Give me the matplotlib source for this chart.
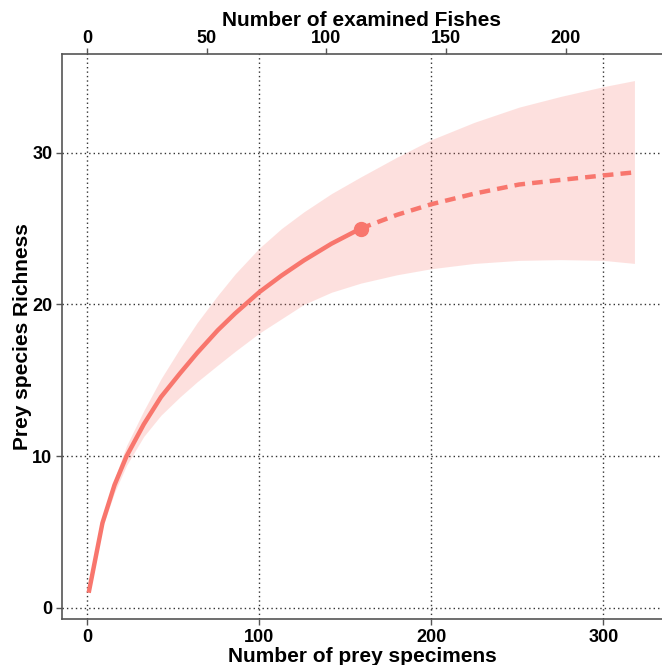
import numpy as np
import matplotlib.pyplot as plt

# rarefaction / extrapolation curve
m_obs = [1, 9, 16, 23, 33, 43, 54, 64, 76, 86, 100, 113, 126, 142, 159]
s_obs = [1.0, 5.6, 8.1, 10.0, 12.1, 13.9, 15.45, 16.8, 18.3, 19.4, 20.8, 21.9, 22.9, 24.0, 25.0]

m_ext = [159, 180, 200, 225, 251, 275, 300, 318]
s_ext = [25.0, 25.9, 26.6, 27.3, 27.9, 28.2, 28.5, 28.7]

# confidence band
m_band = [1, 9, 16, 23, 33, 43, 54, 64, 76, 86, 100, 113, 126, 142, 159, 180, 200, 225, 251, 275, 300, 318]
upper = [1.0, 5.9, 8.5, 10.7, 13.0, 15.1, 17.1, 18.8, 20.6, 22.0, 23.7, 25.0, 26.1, 27.3, 28.4, 29.7, 30.85, 32.0, 33.0, 33.7, 34.35, 34.75]
lower = [1.0, 5.3, 7.6, 9.4, 11.3, 12.7, 13.9, 14.9, 16.0, 16.9, 18.1, 19.05, 20.0, 20.8, 21.4, 21.95, 22.35, 22.7, 22.9, 22.95, 22.9, 22.7]

x_ticks = [0, 100, 200, 300]
y_ticks = [0, 10, 20, 30]
fish_ticks = [0, 50, 100, 150, 200]
specimens_per_fish = 1.39

red = "#F8766D"
spine_col = "#555555"

plt.rcParams['font.family'] = ['Liberation Sans', 'DejaVu Sans']
plt.rcParams['font.weight'] = 'bold'

fig = plt.figure(figsize=(6.62, 6.65), dpi=100)
ax = fig.add_axes([62 / 662, 1 - 619 / 665, 600 / 662, (619 - 54) / 665])

ax.fill_between(m_band, lower, upper, color=red, alpha=0.22, linewidth=0, zorder=1)
ax.plot(m_obs, s_obs, color=red, lw=3.2, solid_capstyle='butt', solid_joinstyle='round', zorder=3)
ax.plot(m_ext, s_ext, color=red, lw=3.2, dashes=(2.4, 1.6), zorder=3)
ax.plot(m_obs[-1], s_obs[-1], 'o', color=red, markersize=10, zorder=4)

ax.set_xlim(-14.5, 334)
ax.set_ylim(-0.73, 36.5)
ax.set_xticks(x_ticks)
ax.set_yticks(y_ticks)
ax.grid(True, color='#333333', linestyle=(0, (1, 2.2)), linewidth=1.0, zorder=0)
ax.set_axisbelow(True)

for side in ['right', 'top']:
    ax.spines[side].set_visible(False)
for side in ['left', 'bottom']:
    ax.spines[side].set_color(spine_col)
    ax.spines[side].set_linewidth(1.2)

ax.tick_params(axis='both', length=4, width=1, color=spine_col, labelsize=13, pad=3)
ax.set_xlabel("Number of prey specimens", fontsize=15, fontweight='bold', labelpad=1)
ax.set_ylabel("Prey species Richness", fontsize=15, fontweight='bold', labelpad=0)

top = ax.secondary_xaxis('top', functions=(lambda m: m / specimens_per_fish,
                                           lambda f: f * specimens_per_fish))
top.set_xticks(fish_ticks)
top.spines['top'].set_color(spine_col)
top.spines['top'].set_linewidth(1.2)
top.tick_params(length=4, width=1, color=spine_col, labelsize=13, pad=1)
top.set_xlabel("Number of examined Fishes", fontsize=15, fontweight='bold', labelpad=3)

fig.savefig("out.png", dpi=100)
